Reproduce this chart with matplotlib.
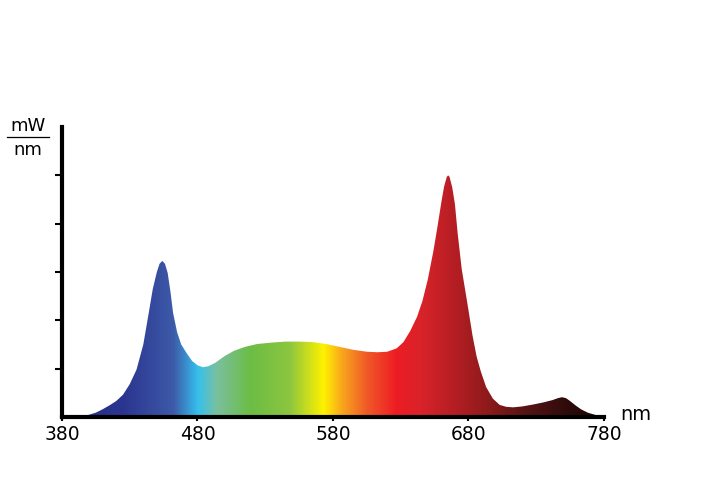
import numpy as np
import matplotlib
matplotlib.use("Agg")
import matplotlib.pyplot as plt
from matplotlib.colors import LinearSegmentedColormap

# Spectrum data (wavelength nm, relative power in tick units)
wavelength = [380, 390, 398, 405, 410, 415, 420, 425, 430, 435, 440, 444, 447, 450,
              452, 454, 456, 458, 460, 462, 465, 468, 472, 476, 480, 484, 488, 493,
              500, 507, 515, 524, 535, 545, 555, 565, 575, 585, 595, 605, 613, 620,
              627, 632, 637, 642, 646, 650, 654, 657, 660, 662, 664, 665, 666, 668,
              670, 672, 675, 679, 683, 686, 689, 693, 698, 703, 708, 713, 720, 728,
              735, 742, 746, 749, 752, 755, 759, 763, 768, 774, 780]
power = [0.0, 0.005, 0.03, 0.09, 0.16, 0.24, 0.33, 0.46, 0.68, 0.98, 1.50, 2.15, 2.65, 3.00,
         3.17, 3.23, 3.17, 2.98, 2.60, 2.15, 1.75, 1.50, 1.32, 1.16, 1.07, 1.03, 1.05, 1.12,
         1.26, 1.37, 1.45, 1.51, 1.54, 1.56, 1.56, 1.55, 1.51, 1.45, 1.39, 1.35, 1.34, 1.35,
         1.42, 1.55, 1.78, 2.07, 2.40, 2.85, 3.42, 3.92, 4.45, 4.77, 4.97, 5.00, 4.97, 4.75,
         4.40, 3.80, 3.06, 2.38, 1.68, 1.25, 0.95, 0.62, 0.38, 0.25, 0.21, 0.20, 0.22, 0.26,
         0.30, 0.35, 0.39, 0.41, 0.39, 0.33, 0.24, 0.16, 0.09, 0.04, 0.01]

x_ticks = [380, 480, 580, 680, 780]
y_ticks = [1, 2, 3, 4, 5]

# Colour stops along the wavelength axis
stop_nm = [380, 425, 462, 480, 494, 519, 548, 573, 587, 605, 627, 646, 671, 696, 720, 757, 780]
stop_col = ["#262c80", "#2b3590", "#3d5aa8", "#35c0ee", "#7ac0a0", "#6cbd45", "#8cc63f",
            "#fff200", "#f8a51d", "#f05a28", "#ed1c24", "#d8232a", "#b31e24", "#8b1a1a",
            "#5a1414", "#2a0a0a", "#1a0505"]

fig = plt.figure(figsize=(7.08, 4.85), dpi=100)
ax = fig.add_axes([62/708, 1-418/485, (604-62)/708, (418-128)/485])

pos = [(n - 380) / 400 for n in stop_nm]
cmap = LinearSegmentedColormap.from_list("spec", list(zip(pos, stop_col)), N=512)
grad = np.linspace(0, 1, 800).reshape(1, -1)
img = ax.imshow(grad, cmap=cmap, aspect="auto", extent=[380, 780, 0, 6],
                origin="lower", interpolation="bilinear", zorder=1)
poly = ax.fill_between(wavelength, 0, power, facecolor="none", edgecolor="none")
clip = poly.get_paths()[0]
img.set_clip_path(clip, transform=ax.transData)

ax.set_xlim(380, 780)
ax.set_ylim(0, 6)
for s in ["top", "right"]:
    ax.spines[s].set_visible(False)
for s in ["left", "bottom"]:
    ax.spines[s].set_linewidth(3)
    ax.spines[s].set_color("black")
    ax.spines[s].set_zorder(5)

ax.set_xticks(x_ticks)
ax.set_xticklabels([str(t) for t in x_ticks],
                   fontdict={"family": "DejaVu Sans", "size": 13.5})
ax.tick_params(axis="x", length=3, width=1.5, pad=2, color="black")
ax.set_yticks(y_ticks)
ax.set_yticklabels([])
ax.tick_params(axis="y", length=5, width=1.5, direction="out", color="black")

fig.text(28/708, 1-126/485, "mW", ha="center", va="center", fontsize=13, family="DejaVu Sans")
fig.text(28/708, 1-150/485, "nm", ha="center", va="center", fontsize=13, family="DejaVu Sans")
fig.add_artist(plt.Line2D([7/708, 49/708], [1-138/485, 1-138/485], color="black", lw=0.9))
fig.text(636/708, 1-415/485, "nm", ha="center", va="center", fontsize=14, family="DejaVu Sans")

fig.savefig("out.png", dpi=100, facecolor="white")
